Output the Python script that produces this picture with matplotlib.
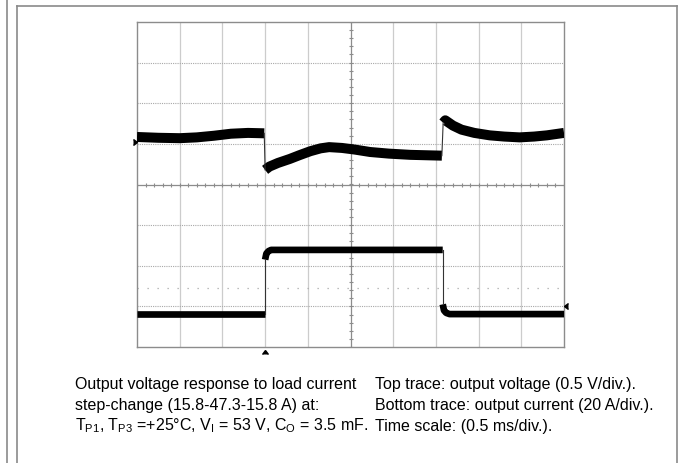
import numpy as np
import matplotlib.pyplot as plt
from matplotlib.lines import Line2D

plt.rcParams['font.family'] = ['Liberation Sans', 'DejaVu Sans']
plt.rcParams['mathtext.fontset'] = 'custom'
plt.rcParams['mathtext.rm'] = 'Liberation Sans'
plt.rcParams['mathtext.it'] = 'Liberation Sans'

# time in ms (0.5 ms/div), trace levels in screen divisions
v_time = [-2.5, -2.25, -2.0, -1.8, -1.6, -1.4, -1.2, -1.01,
          -1.0, -0.95, -0.85, -0.71, -0.6, -0.47, -0.35, -0.25, -0.1, 0.05,
          0.23, 0.45, 0.7, 1.07,
          1.085, 1.11, 1.2, 1.3, 1.45, 1.63, 1.8, 1.98, 2.15, 2.3, 2.5]
v_level = [1.17, 1.15, 1.14, 1.16, 1.20, 1.25, 1.27, 1.26,
           0.36, 0.44, 0.53, 0.63, 0.72, 0.82, 0.89, 0.92, 0.90, 0.86,
           0.80, 0.76, 0.73, 0.71,
           1.52, 1.58, 1.45, 1.35, 1.27, 1.21, 1.18, 1.16, 1.18, 1.21, 1.27]

i_time = [-2.5, -1.0, -1.0, -0.985, -0.96, -0.93, 1.08, 1.08, 1.095, 1.12, 1.16, 2.5]
i_level = [-3.19, -3.19, -1.85, -1.70, -1.64, -1.61, -1.61, -2.95, -3.10, -3.16, -3.19, -3.19]

caption_left = ["Output voltage response to load current",
                "step-change (15.8-47.3-15.8 A) at:",
                r"T$_{\mathrm{P1}}$, T$_{\mathrm{P3}}$ =+25°C, V$_{\mathrm{I}}$ = 53 V, "
                r"C$_{\mathrm{O}}$ = 3.5 mF."]
caption_right = ["Top trace: output voltage (0.5 V/div.).",
                 "Bottom trace: output current (20 A/div.).",
                 "Time scale: (0.5 ms/div.)."]

W, H = 684, 463
fig = plt.figure(figsize=(W / 100, H / 100), dpi=100)


# page frame lines
def fl(x0, y0, x1, y1):
    fig.add_artist(Line2D([x0 / W, x1 / W], [1 - y0 / H, 1 - y1 / H],
                          color='#8a8a8a', lw=1.2))


fl(7, 0, 7, H)
fl(17, 6, 17, H)
fl(17, 6, 677, 6)
fl(677, 6, 677, H)

ax = fig.add_axes([137 / W, 1 - 347 / H, 427 / W, 325 / H])
ax.set_xlim(-2.5, 2.5)
ax.set_ylim(-4, 4)
ax.set_xticks([])
ax.set_yticks([])
for s in ax.spines.values():
    s.set_color('#8c8c8c')
    s.set_linewidth(1.0)

for x in np.arange(-2.0, 2.5, 0.5):
    if abs(x) > 1e-9:
        ax.axvline(x, color='#cccccc', lw=0.9, zorder=1)
for y in range(-3, 4):
    if y != 0:
        ax.axhline(y, color='#a8a8a8', lw=0.8, ls=(0, (1, 1)), zorder=1)
ax.axhline(-2.55, color='#a8a8a8', lw=0.9, ls=(0, (1, 7)), zorder=1)

# centre cross with minor ticks
ax.axvline(0, color='#8c8c8c', lw=0.9, zorder=1)
ax.axhline(0, color='#8c8c8c', lw=0.9, zorder=1)
yt = np.arange(-4, 4.01, 0.2)
ax.plot(np.zeros_like(yt), yt, ls='none', marker='_', ms=3, mew=0.8,
        color='#8c8c8c', zorder=1)
xt = np.arange(-2.5, 2.51, 0.1)
ax.plot(xt, np.zeros_like(xt), ls='none', marker='|', ms=3, mew=0.8,
        color='#8c8c8c', zorder=1)


def trace(t, v, lw):
    t = np.asarray(t)
    v = np.asarray(v)
    jumps = np.where(np.abs(np.diff(v)) > 0.5)[0] + 1
    for tt, vv in zip(np.split(t, jumps), np.split(v, jumps)):
        ax.plot(tt, vv, color='black', lw=lw, solid_joinstyle='round',
                solid_capstyle='butt', zorder=3)
    for j in jumps:
        ax.plot(t[j - 1:j + 1], v[j - 1:j + 1], color='#333333', lw=0.8, zorder=3)


trace(v_time, v_level, 7.2)
trace(i_time, i_level, 4.8)

# scope markers
ax.plot([-2.5], [1.05], marker=5, ms=4, color='black', clip_on=False, zorder=4)
ax.plot([2.5], [-3.0], marker=4, ms=4, color='black', clip_on=False, zorder=4)
ax.plot([-1.0], [-4.07], marker=6, ms=4, color='black', clip_on=False, zorder=4)

fs = 11.5
for k, (a, b) in enumerate(zip(caption_left, caption_right)):
    y = 1 - (385 + k * 20.5) / H
    fig.text(75 / W, y, a, fontsize=fs, va='center', ha='left')
    fig.text(375 / W, y, b, fontsize=fs, va='center', ha='left')

fig.savefig('out.png', dpi=100)
